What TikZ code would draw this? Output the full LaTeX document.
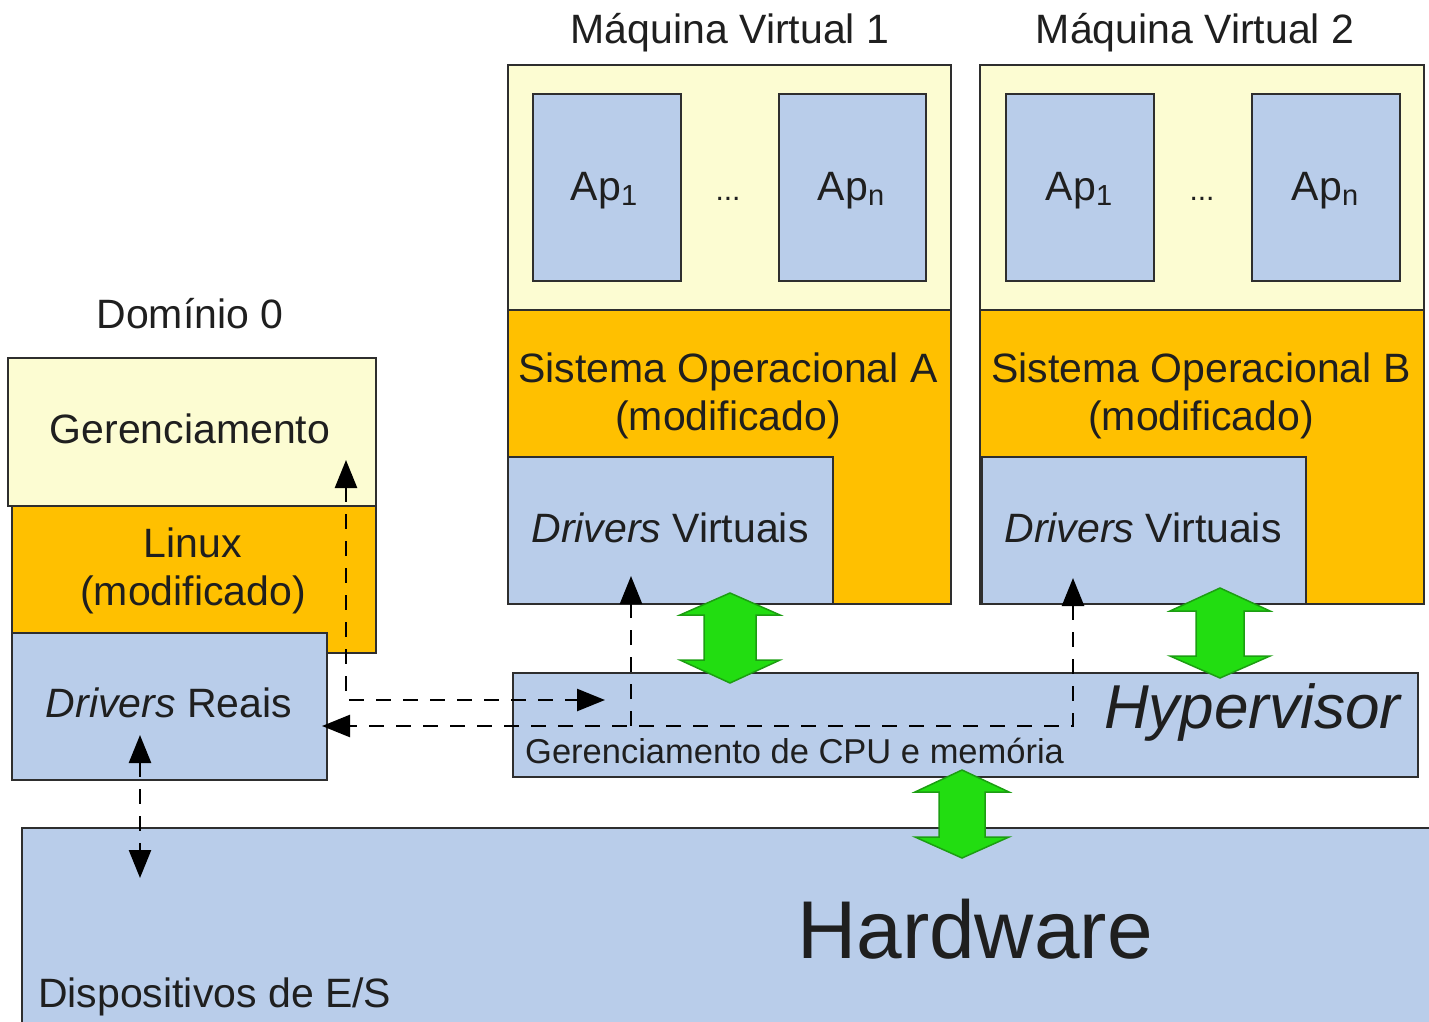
\documentclass[tikz,border=0pt]{standalone}
\usepackage{fontspec}
\setmainfont{Liberation Sans}
\usetikzlibrary{arrows.meta}

\definecolor{paleyellow}{HTML}{FCFCD2}
\definecolor{osorange}{HTML}{FFC000}
\definecolor{layerblue}{HTML}{B9CDEA}
\definecolor{linkgreen}{HTML}{22DD11}
\definecolor{linkgreenedge}{HTML}{1C9E12}
\definecolor{edgegray}{HTML}{2E2E2E}

\tikzset{
  box/.style={draw=edgegray, line width=2.5pt, inner sep=0pt, outer sep=0pt, anchor=north west},
  lbl/.style={font=\fontsize{41}{49}\selectfont, text=black!88, anchor=base, inner sep=0pt},
  small/.style={lbl, font=\fontsize{34.5}{40}\selectfont},
  flow/.style={draw=black, line width=2.5pt, dash pattern=on 15pt off 12pt},
  tip/.style={-{Triangle[length=28pt,width=22pt]}},
  tips/.style={{Triangle[length=28pt,width=22pt]}-{Triangle[length=28pt,width=22pt]}},
  bus/.style={fill=linkgreen, draw=linkgreenedge, line width=1.5pt, line join=miter}
}

% application index, set small and slightly lowered
\newcommand\appidx[1]{\raisebox{-5pt}{\fontsize{29}{30}\selectfont #1}}

% vertical double-headed block arrow: centre x, top tip, top head base,
% bottom head base, bottom tip, head half width, shaft half width
\newcommand\busarrow[7]{%
  \draw[bus] (#1,#2) -- (#1+#6,#3) -- (#1+#7,#3) -- (#1+#7,#4) -- (#1+#6,#4)
    -- (#1,#5) -- (#1-#6,#4) -- (#1-#7,#4) -- (#1-#7,#3) -- (#1-#6,#3) -- cycle;}

\begin{document}
\begin{tikzpicture}[x=1pt,y=-1pt]
\useasboundingbox (0,0) rectangle (1429,1022);

% ---------- hardware ----------
\node[box, fill=layerblue, minimum width=1440pt, minimum height=220pt] (hw) at (22,828) {};
\node[lbl, font=\fontsize{82}{96}\selectfont] (hwtxt) at (975,958) {Hardware};
\node[lbl, anchor=base west] (io) at (38,1007) {Dispositivos de E/S};

% ---------- domain 0 ----------
\node[lbl] (d0) at (190,328) {Domínio 0};
\node[box, fill=paleyellow, minimum width=368pt, minimum height=148pt] (ger) at (8,358) {};
\node[box, fill=osorange, minimum width=364pt, minimum height=147pt] (linux) at (12,506) {};
\node[box, fill=layerblue, minimum width=315pt, minimum height=147pt] (real) at (12,633) {};
\node[lbl] (gertxt) at (190,443) {Gerenciamento};
\node[lbl] (linuxtxt) at (193,557) {Linux};
\node[lbl] (linuxmod) at (193,605) {(modificado)};
\node[lbl] (realtxt) at (169,717) {\textit{Drivers} Reais};

% ---------- virtual machine 1 ----------
\node[lbl] (vm1) at (730,44) {Máquina Virtual 1};
\node[box, fill=paleyellow, minimum width=443pt, minimum height=245pt] (apsA) at (508,65) {};
\node[box, fill=osorange, minimum width=443pt, minimum height=294pt] (osA) at (508,310) {};
\node[box, fill=layerblue, minimum width=148pt, minimum height=187pt] (apA1) at (533,94) {};
\node[box, fill=layerblue, minimum width=147pt, minimum height=187pt] (apAn) at (779,94) {};
\node[lbl] (apA1txt) at (604,200) {Ap\appidx{1}};
\node[lbl] (apAntxt) at (851,200) {Ap\appidx{n}};
\node[lbl, font=\fontsize{30}{36}\selectfont] (dotsA) at (728,200) {...};
\node[lbl] (osAtxt) at (728,382) {Sistema Operacional A};
\node[lbl] (osAmod) at (728,430) {(modificado)};
\node[box, fill=layerblue, minimum width=325pt, minimum height=147pt] (virtA) at (508,457) {};
\node[lbl] (virtAtxt) at (670,542) {\textit{Drivers} Virtuais};

% ---------- virtual machine 2 ----------
\node[lbl] (vm2) at (1195,44) {Máquina Virtual 2};
\node[box, fill=paleyellow, minimum width=444pt, minimum height=245pt] (apsB) at (980,65) {};
\node[box, fill=osorange, minimum width=444pt, minimum height=294pt] (osB) at (980,310) {};
\node[box, fill=layerblue, minimum width=148pt, minimum height=187pt] (apB1) at (1006,94) {};
\node[box, fill=layerblue, minimum width=148pt, minimum height=187pt] (apBn) at (1252,94) {};
\node[lbl] (apB1txt) at (1079,200) {Ap\appidx{1}};
\node[lbl] (apBntxt) at (1325,200) {Ap\appidx{n}};
\node[lbl, font=\fontsize{30}{36}\selectfont] (dotsB) at (1202,200) {...};
\node[lbl] (osBtxt) at (1201,382) {Sistema Operacional B};
\node[lbl] (osBmod) at (1201,430) {(modificado)};
\node[box, fill=layerblue, minimum width=324pt, minimum height=147pt] (virtB) at (982,457) {};
\node[lbl] (virtBtxt) at (1143,542) {\textit{Drivers} Virtuais};

% ---------- hypervisor ----------
\node[box, fill=layerblue, minimum width=905pt, minimum height=104pt] (hyp) at (513,673) {};
\node[lbl, anchor=base west, font=\fontsize{62}{72}\selectfont\itshape] (hyptxt) at (1104,728) {Hypervisor};
\node[small, anchor=base west] (cpu) at (525,763) {Gerenciamento de CPU e memória};

% ---------- dashed control paths ----------
\coordinate (gerIn) at (346,460);
\coordinate (hypIn) at (605,700);
\coordinate (realIn) at (322,726);
\coordinate (virtAIn) at (631,576);
\coordinate (virtBIn) at (1073,578);
\coordinate (joinA) at (631,726);
\coordinate (realDown) at (140,735);
\coordinate (ioUp) at (140,878);

\draw[flow, tips] (gerIn) |- (hypIn);
\draw[flow, tips] (virtBIn) |- (realIn);
\draw[flow, tip] (joinA) -- (virtAIn);
\draw[flow, tips] (realDown) -- (ioUp);

% ---------- data paths ----------
\busarrow{730}{593}{615}{660}{683}{50}{26}
\busarrow{1220}{588}{611}{656}{678}{50}{24}
\busarrow{962}{770}{792}{837}{858}{47}{23}
\end{tikzpicture}
\end{document}
